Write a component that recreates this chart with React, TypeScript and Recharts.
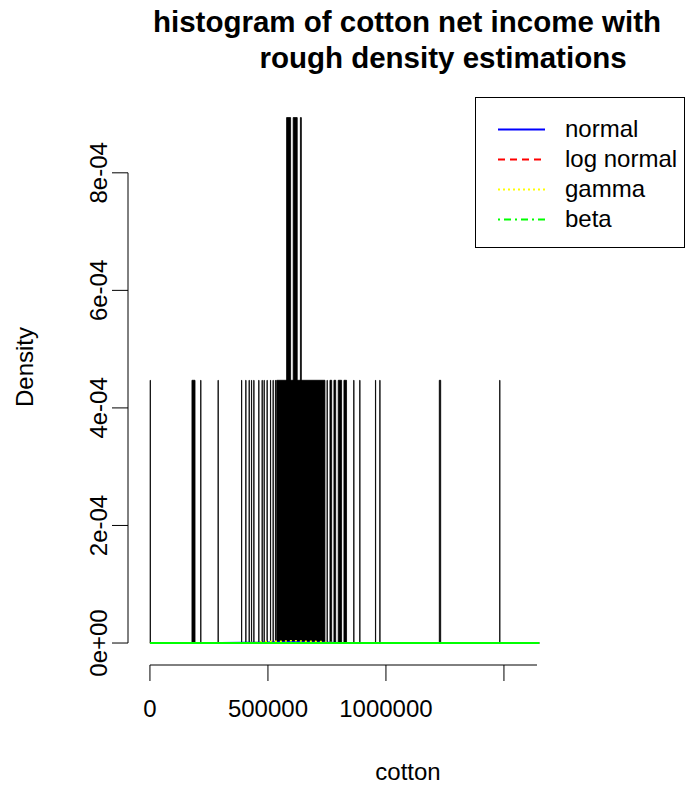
import { Area, ComposedChart, Line, ReferenceLine, XAxis, YAxis } from 'recharts';

// histogram bins (left edge, right edge, density)
const binStart = [
  1000, 178000, 215000, 288500, 388000, 406000, 420000, 430000, 440000, 461000, 475000, 483500,
  496000, 510500, 521500, 531500, 536800, 579000, 596000, 607000, 624000, 637500, 641500, 750500,
  762700, 779600, 797800, 822000, 863500, 889000, 955500, 974000, 1226000, 1482000,
];
const binEnd = [
  2000, 191000, 216000, 289500, 389000, 407000, 421000, 431000, 441000, 462000, 476000, 484500,
  497000, 511500, 522500, 532500, 579000, 596000, 607000, 624000, 637500, 641500, 741500, 751500,
  770000, 787000, 812000, 833000, 864500, 890000, 956500, 975000, 1232000, 1483000,
];
const binDensity = [
  0.000447, 0.000447, 0.000447, 0.000447, 0.000447, 0.000447, 0.000447, 0.000447, 0.000447,
  0.000447, 0.000447, 0.000447, 0.000447, 0.000447, 0.000447, 0.000447, 0.000447, 0.000894,
  0.000447, 0.000894, 0.000447, 0.000894, 0.000447, 0.000447, 0.000447, 0.000447, 0.000447,
  0.000447, 0.000447, 0.000447, 0.000447, 0.000447, 0.000447, 0.000447,
];

// fitted density curves, values in 1e-6
const curveX = [
  0, 100000, 200000, 300000, 400000, 450000, 480000, 500000, 550000, 600000, 620000, 650000, 700000,
  730000, 760000, 800000, 900000, 1000000, 1200000, 1400000, 1650000,
];
const normalY = [0, 0.05, 0.15, 0.35, 0.7, 0.95, 1.1, 1.3, 1.7, 2.3, 2.2, 1.8, 1.4, 1.1, 0.8, 0.6, 0.3, 0.1, 0, 0, 0];
const lognormalY = [0, 0.1, 0.25, 0.4, 0.5, 0.55, 0.55, 0.55, 0.55, 0.5, 0.5, 0.5, 0.45, 0.45, 0.4, 0.35, 0.3, 0.25, 0.15, 0.1, 0.05];
const gammaY = [0, 0, 0, 0.1, 0.4, 1.0, 2.4, 2.7, 3.0, 3.9, 3.9, 3.1, 2.8, 2.4, 1.0, 0.3, 0.05, 0, 0, 0, 0];
const betaY = [0, 0, 0, 0, 0, 0, 0, 0, 0, 0, 0, 0, 0, 0, 0, 0, 0, 0, 0, 0, 0];

const xTicks = [0, 500000, 1000000, 1500000];
const xTickLabels = ['0', '500000', '1000000', ''];
const yTicks = [0, 0.0002, 0.0004, 0.0006, 0.0008];
const yTickLabels = ['0e+00', '2e-04', '4e-04', '6e-04', '8e-04'];

const series = [
  { key: 'normal', name: 'normal', color: '#0000ff', dash: undefined as string | undefined },
  { key: 'lognormal', name: 'log normal', color: '#ff0000', dash: '7 5' },
  { key: 'gamma', name: 'gamma', color: '#ffff00', dash: '2 3' },
  { key: 'beta', name: 'beta', color: '#00ff00', dash: '2 4 7 4' },
];

const histPoints = binStart.flatMap((s, i) => [
  { x: s, hist: 0 },
  { x: s, hist: binDensity[i] },
  { x: binEnd[i], hist: 0 },
]);

const curvePoints = curveX.map((x, i) => ({
  x,
  normal: normalY[i] * 1e-6,
  lognormal: lognormalY[i] * 1e-6,
  gamma: gammaY[i] * 1e-6,
  beta: betaY[i] * 1e-6,
}));

const X_MIN = -93000;
const X_MAX = 1657000;
const Y_MIN = -0.0000374;
const Y_MAX = 0.000929;
const FONT = '"Liberation Sans", Arial, sans-serif';

function YTick({ x, y, payload }: any) {
  const i = yTicks.indexOf(payload.value);
  return (
    <text
      x={x - 5}
      y={y}
      transform={`rotate(-90, ${x - 5}, ${y})`}
      textAnchor="middle"
      fontFamily={FONT}
      fontSize={24}
      fill="#000"
    >
      {yTickLabels[i]}
    </text>
  );
}

function XTick({ x, y, payload }: any) {
  const i = xTicks.indexOf(payload.value);
  return (
    <text x={x} y={y + 36} textAnchor="middle" fontFamily={FONT} fontSize={24} fill="#000">
      {xTickLabels[i]}
    </text>
  );
}

export default function App() {
  return (
    <div style={{ position: 'absolute', left: 0, top: 0, width: 686, height: 788, background: '#fff' }}>
      <ComposedChart
        width={686}
        height={788}
        margin={{ top: 97, right: 145, bottom: 63, left: 68 }}
      >
        <XAxis
          type="number"
          dataKey="x"
          domain={[X_MIN, X_MAX]}
          allowDataOverflow
          ticks={xTicks}
          height={60}
          axisLine={false}
          tickSize={16}
          tickMargin={0}
          tickLine={{ stroke: '#000' }}
          tick={<XTick />}
        />
        <YAxis
          type="number"
          domain={[Y_MIN, Y_MAX]}
          allowDataOverflow
          ticks={yTicks}
          width={60}
          axisLine={false}
          tickSize={16}
          tickMargin={0}
          tickLine={{ stroke: '#000' }}
          tick={<YTick />}
        />
        <ReferenceLine
          segment={[{ x: X_MIN, y: 0 }, { x: X_MIN, y: 0.0008 }]}
          stroke="#000"
          ifOverflow="visible"
        />
        <ReferenceLine
          segment={[{ x: 0, y: Y_MIN }, { x: 1640000, y: Y_MIN }]}
          stroke="#000"
          ifOverflow="visible"
        />
        <Area
          data={histPoints}
          dataKey="hist"
          type="stepAfter"
          stroke="#000"
          strokeWidth={0.8}
          fill="#000"
          fillOpacity={1}
          dot={false}
          activeDot={false}
          isAnimationActive={false}
        />
        {series.map((s) => (
          <Line
            key={s.key}
            data={curvePoints}
            dataKey={s.key}
            stroke={s.color}
            strokeWidth={s.key === 'beta' ? 2 : 1.5}
            strokeDasharray={s.key === 'beta' ? undefined : s.dash}
            dot={false}
            activeDot={false}
            isAnimationActive={false}
          />
        ))}
      </ComposedChart>
      <svg
        width={686}
        height={788}
        style={{ position: 'absolute', left: 0, top: 0, pointerEvents: 'none' }}
        fontFamily={FONT}
      >
        <text x={407} y={32} textAnchor="middle" fontSize={29.5} fontWeight="bold">
          histogram of cotton net income with
        </text>
        <text x={443} y={68} textAnchor="middle" fontSize={29.5} fontWeight="bold">
          rough density estimations
        </text>
        <text x={408} y={780} textAnchor="middle" fontSize={24}>
          cotton
        </text>
        <text x={33} y={367} transform="rotate(-90, 33, 367)" textAnchor="middle" fontSize={24}>
          Density
        </text>
        <rect x={475.5} y={97.5} width={209} height={150} fill="#fff" stroke="#000" />
        {series.map((s, i) => (
          <g key={s.key}>
            <line
              x1={498}
              x2={545}
              y1={129.5 + i * 30}
              y2={129.5 + i * 30}
              stroke={s.color}
              strokeWidth={2}
              strokeDasharray={s.dash}
            />
            <text x={565} y={137 + i * 30} fontSize={24}>
              {s.name}
            </text>
          </g>
        ))}
      </svg>
    </div>
  );
}
